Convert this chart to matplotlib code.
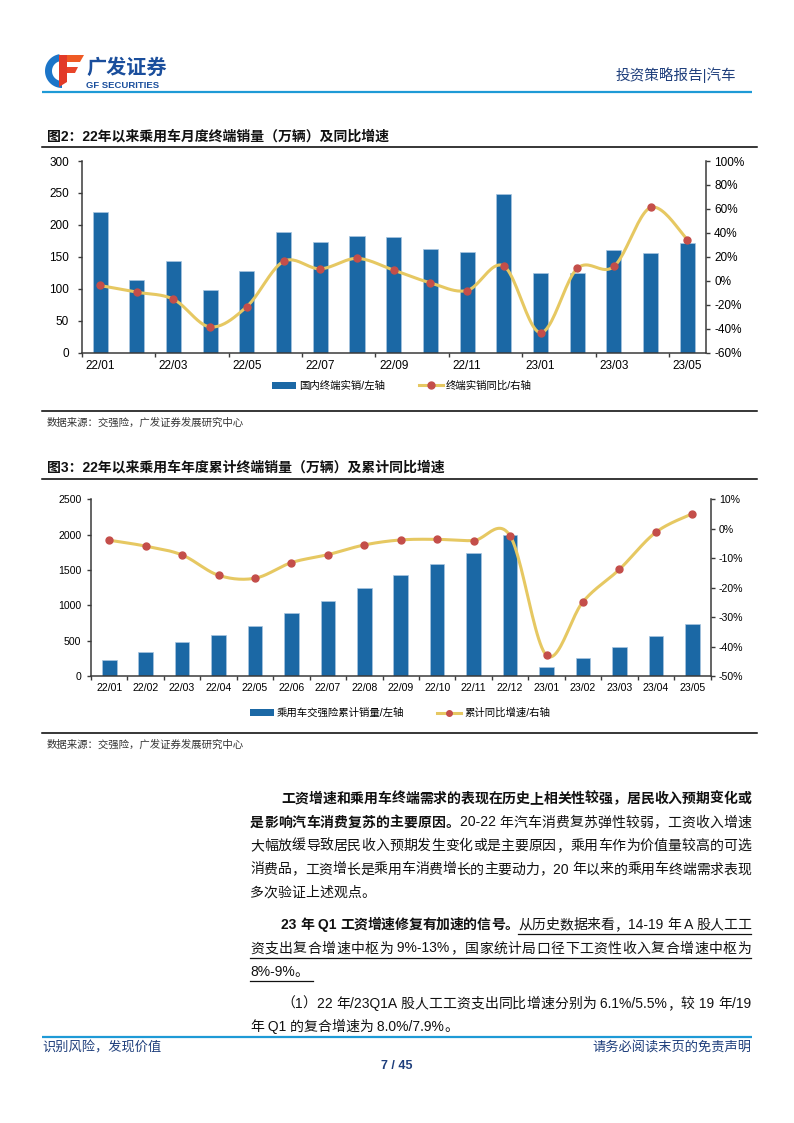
import numpy as np
import matplotlib
matplotlib.use('Agg')
import matplotlib.pyplot as plt
from matplotlib.patches import Rectangle, Polygon, Patch
from matplotlib.lines import Line2D
from matplotlib.ticker import FuncFormatter, MultipleLocator

plt.rcParams['font.family'] = ['Liberation Sans', 'Noto Sans CJK SC', 'DejaVu Sans']
plt.rcParams['axes.unicode_minus'] = False

# ---------------- data ----------------
months = ['22/01', '22/02', '22/03', '22/04', '22/05', '22/06', '22/07', '22/08', '22/09',
          '22/10', '22/11', '22/12', '23/01', '23/02', '23/03', '23/04', '23/05']
monthly_sales = [220, 113.6, 143.5, 97.4, 128, 188.5, 173.8, 183, 181, 161.8, 157.6, 248,
                 124.6, 125, 160.7, 156.5, 172]
monthly_yoy = [-3.9, -9.5, -15.4, -38.5, -21.5, 16.2, 10.0, 18.7, 8.9, -1.7, -8.1, 12.3,
               -43.3, 10.3, 12.0, 61.2, 34.4]
cum_sales = [221, 334, 475, 579, 706, 890, 1064, 1248, 1427, 1587, 1747, 1991,
             127, 254, 410, 570, 739]
cum_yoy = [-3.9, -5.9, -8.9, -15.8, -16.8, -11.5, -8.8, -5.5, -3.8, -3.6, -4.0, -2.4,
           -43.0, -24.8, -13.8, -1.2, 5.1]

legend1 = ['国内终端实销/左轴', '终端实销同比/右轴']
legend2 = ['乘用车交强险累计销量/左轴', '累计同比增速/右轴']
title1 = '图2：22年以来乘用车月度终端销量（万辆）及同比增速'
title2 = '图3：22年以来乘用车年度累计终端销量（万辆）及累计同比增速'
source = '数据来源：交强险，广发证券发展研究中心'

W, H = 794, 1123
BAR = '#1B68A5'
LINE = '#E6C862'
DOT = '#C44E4A'
NAVY = '#1F3F7C'
AX = '#3A3A3A'

fig = plt.figure(figsize=(W / 100, H / 100), dpi=100)
fig.patch.set_facecolor('white')

page = fig.add_axes([0, 0, 1, 1])
page.set_xlim(0, W)
page.set_ylim(H, 0)
page.axis('off')
page.patch.set_alpha(0)


def pos(l, t, r, b):
    return [l / W, 1 - b / H, (r - l) / W, (b - t) / H]


def catmull(x, y, n=24):
    P = np.column_stack([np.asarray(x, float), np.asarray(y, float)])
    P = np.vstack([P[0], P, P[-1]])
    out = []
    t = np.linspace(0, 1, n)[:, None]
    for i in range(len(P) - 3):
        p0, p1, p2, p3 = P[i], P[i + 1], P[i + 2], P[i + 3]
        seg = 0.5 * (2 * p1 + (-p0 + p2) * t + (2 * p0 - 5 * p1 + 4 * p2 - p3) * t ** 2
                     + (-p0 + 3 * p1 - 3 * p2 + p3) * t ** 3)
        out.append(seg if i == 0 else seg[1:])
    S = np.vstack(out)
    return S[:, 0], S[:, 1]


def style_axes(ax, axr, labsize, lpad):
    for s in ['top', 'right']:
        ax.spines[s].set_visible(False)
    for s in ['top', 'left', 'bottom']:
        axr.spines[s].set_visible(False)
    for sp in [ax.spines['left'], ax.spines['bottom'], axr.spines['right']]:
        sp.set_color(AX)
        sp.set_linewidth(1.1)
    ax.tick_params(axis='both', which='major', direction='out', length=3, width=1,
                   color=AX, labelsize=labsize, pad=3)
    ax.tick_params(axis='y', which='major', pad=lpad)
    ax.tick_params(axis='x', which='minor', length=0, labelsize=labsize, pad=5)
    axr.tick_params(axis='y', direction='out', length=3, width=1, color=AX,
                    labelsize=labsize, pad=3)


# ---------------- chart 1 ----------------
x = np.arange(len(months))
ax1 = fig.add_axes(pos(81.7, 161, 705.7, 352.7))
ax1.bar(x, monthly_sales, width=0.41, color=BAR, edgecolor='#A8C5E0', linewidth=0.5, zorder=2)
ax1.set_xlim(-0.5, len(months) - 0.5)
ax1.set_ylim(0, 300)
ax1.yaxis.set_major_locator(MultipleLocator(50))
ax1.set_xticks(np.arange(-0.5, len(months), 2))
ax1.set_xticklabels([])
ax1.set_xticks(x[::2], minor=True)
ax1.set_xticklabels(months[::2], minor=True)
ax1r = ax1.twinx()
ax1r.set_ylim(-60, 100)
ax1r.yaxis.set_major_locator(MultipleLocator(20))
ax1r.yaxis.set_major_formatter(FuncFormatter(lambda v, p: f'{v:.0f}%'))
xs, ys = catmull(x, monthly_yoy)
ax1r.plot(xs, ys, color=LINE, lw=2.2, zorder=3, solid_capstyle='round')
ax1r.plot(x, monthly_yoy, 'o', color=DOT, ms=5, zorder=4)
style_axes(ax1, ax1r, 8.5, 6)

h1 = [Patch(facecolor=BAR, edgecolor='none'),
      Line2D([], [], color=LINE, lw=2.2, marker='o', mfc=DOT, mec=DOT, ms=5)]
fig.legend(h1, legend1, loc='center', bbox_to_anchor=(402 / W, 1 - 386 / H), ncol=2,
           frameon=False, fontsize=7.5, handlelength=2.3, handleheight=0.7,
           columnspacing=3.2, handletextpad=0.3)

# ---------------- chart 2 ----------------
ax2 = fig.add_axes(pos(91, 499.3, 710.5, 676))
ax2.bar(x, cum_sales, width=0.40, color=BAR, edgecolor='#A8C5E0', linewidth=0.5, zorder=2)
ax2.set_xlim(-0.5, len(months) - 0.5)
ax2.set_ylim(0, 2500)
ax2.yaxis.set_major_locator(MultipleLocator(500))
ax2.set_xticks(np.arange(-0.5, len(months), 1))
ax2.set_xticklabels([])
ax2.set_xticks(x, minor=True)
ax2.set_xticklabels(months, minor=True)
ax2r = ax2.twinx()
ax2r.set_ylim(-50, 10)
ax2r.yaxis.set_major_locator(MultipleLocator(10))
ax2r.yaxis.set_major_formatter(FuncFormatter(lambda v, p: f'{v:.0f}%'))
xs, ys = catmull(x, cum_yoy)
ax2r.plot(xs, ys, color=LINE, lw=2.2, zorder=3, solid_capstyle='round')
ax2r.plot(x, cum_yoy, 'o', color=DOT, ms=5, zorder=4)
style_axes(ax2, ax2r, 7.6, 4)

h2 = [Patch(facecolor=BAR, edgecolor='none'),
      Line2D([], [], color=LINE, lw=2.2, marker='o', mfc=DOT, mec=DOT, ms=4)]
fig.legend(h2, legend2, loc='center', bbox_to_anchor=(400 / W, 1 - 713 / H), ncol=2,
           frameon=False, fontsize=7.5, handlelength=2.3, handleheight=0.7,
           columnspacing=3.2, handletextpad=0.3)

# ---------------- page furniture ----------------
# logo
ang = np.linspace(np.pi * 0.55, np.pi * 1.5, 40)
cx, cy = 62, 71
outer = np.column_stack([cx + 17 * np.cos(ang), cy - 17 * np.sin(ang)])
inner = np.column_stack([cx + 10 * np.cos(ang[::-1]), cy - 10 * np.sin(ang[::-1])])
page.add_patch(Polygon(np.vstack([outer, inner]), closed=True, color='#1C75C8', lw=0))
page.add_patch(Polygon([(59, 55), (84, 55), (80, 62), (59, 62)], closed=True, color='#EF5A24', lw=0))
page.add_patch(Polygon([(61, 67), (78, 67), (75, 73), (61, 73)], closed=True, color='#E8452A', lw=0))
page.add_patch(Polygon([(59, 55), (67, 55), (67, 82), (59, 87)], closed=True, color='#E23A28', lw=0))
page.text(86, 67, '广发证券', fontsize=14.5, fontweight='bold', color='#1A4E9C',
          ha='left', va='center', family=['Noto Sans CJK SC'])
page.text(86, 85, 'GF SECURITIES', fontsize=6.8, fontweight='bold', color='#1A4E9C',
          ha='left', va='center')
page.text(736, 75, '投资策略报告|汽车', fontsize=10.5, color=NAVY, ha='right', va='center')
page.plot([42, 752], [91.5, 91.5], color='#1E9AD6', lw=1.6, solid_capstyle='butt')

# chart titles and rules
page.text(47, 137, title1, fontsize=10, fontweight='bold', ha='left', va='center', color='#111111')
page.plot([42, 757], [147, 147], color='black', lw=1.1)
page.plot([42, 757], [410.5, 410.5], color='black', lw=1.1)
page.text(47, 422.5, source, fontsize=7.5, ha='left', va='center', color='#333333')

page.text(47, 468, title2, fontsize=10, fontweight='bold', ha='left', va='center', color='#111111')
page.plot([42, 757], [478.5, 478.5], color='black', lw=1.1)
page.plot([42, 757], [733, 733], color='black', lw=1.1)
page.text(47, 745, source, fontsize=7.5, ha='left', va='center', color='#333333')

# body text with justification
renderer = fig.canvas.get_renderer()
BODY = 10


def tokenize(text):
    toks = []
    run = ''
    for c in text:
        if ord(c) < 128:
            run += c
        else:
            if run:
                toks.append(run)
                run = ''
            toks.append(c)
    if run:
        toks.append(run)
    return toks


def draw_line(segs, x0, x1, y, justify=True):
    items = []
    for text, bold, ul in segs:
        for tk in tokenize(text):
            t = page.text(0, y, tk, fontsize=BODY, fontweight='bold' if bold else 'normal',
                          ha='left', va='center', color='#111111')
            w = t.get_window_extent(renderer).width
            items.append((t, w, ul))
    total = sum(w for _, w, _ in items)
    gap = (x1 - x0 - total) / (len(items) - 1) if (justify and len(items) > 1) else 0
    cur = x0
    ul_start = None
    for i, (t, w, ul) in enumerate(items):
        t.set_x(cur)
        if ul and ul_start is None:
            ul_start = cur
        end = cur + w
        cur = end + gap
        nxt_ul = items[i + 1][2] if i + 1 < len(items) else False
        if ul and not nxt_ul:
            page.plot([ul_start, end + (4 if not justify else 0)], [y + 9, y + 9],
                      color='#111111', lw=0.9)
            ul_start = None


L, R = 250, 751
IND = 281
lines = [
    ([('工资增速和乘用车终端需求的表现在历史上相关性较强，居民收入预期变化或', True, False)], IND, 799, True),
    ([('是影响汽车消费复苏的主要原因。', True, False), ('20-22 年汽车消费复苏弹性较弱，工资收入增速', False, False)], L, 822.5, True),
    ([('大幅放缓导致居民收入预期发生变化或是主要原因，乘用车作为价值量较高的可选', False, False)], L, 846, True),
    ([('消费品，工资增长是乘用车消费增长的主要动力，20 年以来的乘用车终端需求表现', False, False)], L, 869.5, True),
    ([('多次验证上述观点。', False, False)], L, 893, False),
    ([('23 年 Q1 工资增速修复有加速的信号。', True, False), ('从历史数据来看，14-19 年 A 股人工工', False, True)], IND, 925, True),
    ([('资支出复合增速中枢为 9%-13%，国家统计局口径下工资性收入复合增速中枢为', False, True)], L, 948.5, True),
    ([('8%-9%。', False, True)], L, 972, False),
    ([('（1）22 年/23Q1A 股人工工资支出同比增速分别为 6.1%/5.5%，较 19 年/19', False, False)], IND, 1004, True),
    ([('年 Q1 的复合增速为 8.0%/7.9%。', False, False)], L, 1027, False),
]
for segs, xs0, yy, just in lines:
    draw_line(segs, xs0, R, yy, just)

# footer
page.plot([42, 752], [1037, 1037], color='#1E9AD6', lw=1.6, solid_capstyle='butt')
page.text(42, 1048, '识别风险，发现价值', fontsize=9.5, color=NAVY, ha='left', va='center')
page.text(751, 1048, '请务必阅读末页的免责声明', fontsize=9.5, color=NAVY, ha='right', va='center')
page.text(397, 1066, '7 / 45', fontsize=9, fontweight='bold', color=NAVY, ha='center', va='center')

fig.savefig('out.png', dpi=100)
